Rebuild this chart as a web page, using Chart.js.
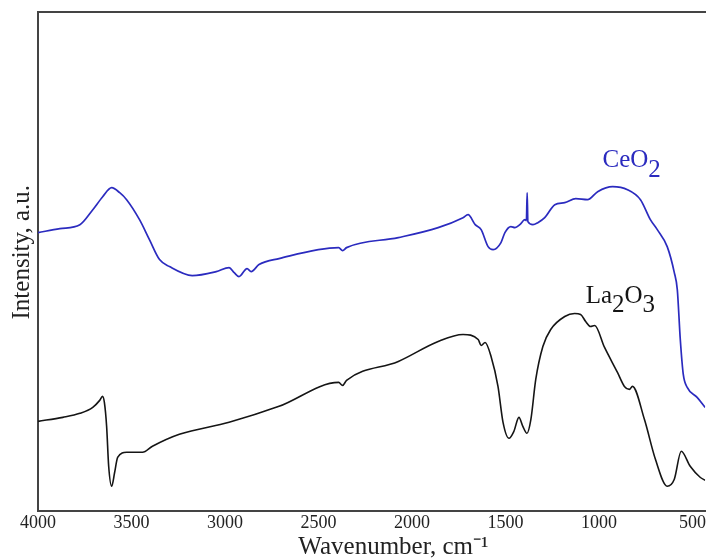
<!DOCTYPE html>
<html>
<head>
<meta charset="utf-8">
<script src="https://cdn.jsdelivr.net/npm/chart.js@4/dist/chart.umd.min.js"></script>
<style>
  html, body { margin: 0; padding: 0; background: #ffffff; }
  #wrap { width: 708px; height: 560px; }
</style>
</head>
<body>
<div id="wrap"><canvas id="c" width="708" height="560"></canvas></div>
<script>
// ---- data (wavenumber, cm-1 / intensity, a.u.) ----
const tickLabels = [4000, 3500, 3000, 2500, 2000, 1500, 1000, 500];

const ceWave = [4000, 3883, 3776, 3707, 3654, 3606, 3563, 3526, 3457, 3404, 3350, 3297, 3175, 3047, 2978, 2951, 2925, 2882, 2860, 2818, 2711, 2392, 2371, 2350, 2073, 1860, 1727, 1700, 1662, 1630, 1593, 1566, 1524, 1503, 1471, 1449, 1423, 1396, 1388, 1384, 1380, 1353, 1327, 1290, 1236, 1183, 1124, 1061, 1007, 927, 847, 778, 725, 688, 635, 597, 581, 565, 549, 528, 475, 432];
const ceInt  = [55.8, 56.6, 57.4, 60.4, 63.0, 64.8, 63.8, 62.4, 58.4, 54.4, 50.4, 49.0, 47.2, 48.0, 48.8, 47.8, 47.0, 48.6, 48.0, 49.4, 50.6, 52.8, 52.2, 52.8, 54.8, 56.8, 58.8, 59.4, 57.4, 56.4, 53.0, 52.4, 53.8, 55.8, 57.0, 56.8, 57.4, 58.4, 58.2, 63.8, 58.0, 57.4, 57.8, 58.8, 61.4, 61.8, 62.6, 62.4, 64.0, 65.0, 64.4, 62.4, 58.4, 56.4, 53.0, 47.8, 44.4, 34.4, 27.4, 24.8, 22.8, 20.8];

const laWave = [4000, 3867, 3776, 3707, 3670, 3655, 3645, 3633, 3622, 3606, 3590, 3574, 3526, 3441, 3388, 3244, 2978, 2711, 2392, 2371, 2350, 2073, 1860, 1727, 1646, 1630, 1609, 1577, 1540, 1513, 1481, 1455, 1428, 1407, 1385, 1364, 1338, 1300, 1258, 1183, 1130, 1098, 1071, 1045, 1023, 970, 901, 864, 837, 821, 757, 698, 635, 597, 560, 512, 459, 432];
const laInt  = [18.0, 18.8, 19.6, 20.8, 22.2, 23.0, 21.8, 17.0, 9.0, 5.0, 7.8, 10.8, 11.8, 11.8, 13.0, 15.4, 17.8, 21.0, 25.8, 25.2, 26.2, 30.0, 34.0, 35.4, 34.4, 33.2, 33.8, 31.0, 25.0, 17.8, 14.6, 16.0, 18.8, 17.0, 15.6, 18.4, 26.4, 33.0, 36.4, 39.0, 39.6, 39.4, 38.0, 37.0, 37.2, 32.8, 27.8, 25.0, 24.4, 25.0, 18.4, 10.4, 5.0, 6.4, 12.0, 9.0, 6.8, 6.2];

// label anchors in data units
const labelWave = [981, 1071];
const labelInt  = [69.0, 41.8];

const CE_COLOR = '#2b2bbf';
const LA_COLOR = '#151515';
const AXIS_COLOR = '#444444';
const SERIF = "'Liberation Serif', 'Times New Roman', serif";

function pts(xs, ys) { return xs.map((x, i) => ({ x: x, y: ys[i] })); }

const labelPlugin = {
  id: 'seriesLabels',
  afterDatasetsDraw(chart) {
    const ctx = chart.ctx;
    const xs = chart.scales.x, ys = chart.scales.y;
    ctx.save();
    ctx.font = '25px ' + SERIF;
    ctx.textBaseline = 'alphabetic';
    ctx.textAlign = 'left';
    // CeO2
    let px = xs.getPixelForValue(labelWave[0]);
    let py = ys.getPixelForValue(labelInt[0]);
    ctx.fillStyle = CE_COLOR;
    ctx.fillText('CeO', px, py);
    px += ctx.measureText('CeO').width;
    ctx.fillText('2', px, py + 10);
    // La2O3
    px = xs.getPixelForValue(labelWave[1]);
    py = ys.getPixelForValue(labelInt[1]);
    ctx.fillStyle = LA_COLOR;
    ctx.fillText('La', px, py);
    px += ctx.measureText('La').width;
    ctx.fillText('2', px, py + 9);
    px += ctx.measureText('2').width;
    ctx.fillText('O', px, py);
    px += ctx.measureText('O').width;
    ctx.fillText('3', px, py + 9);
    ctx.restore();
  }
};

new Chart(document.getElementById('c'), {
  type: 'line',
  data: {
    datasets: [
      { label: 'CeO2', data: pts(ceWave, ceInt), borderColor: CE_COLOR, borderWidth: 1.7,
        pointRadius: 0, cubicInterpolationMode: 'monotone', fill: false },
      { label: 'La2O3', data: pts(laWave, laInt), borderColor: LA_COLOR, borderWidth: 1.6,
        pointRadius: 0, cubicInterpolationMode: 'monotone', fill: false }
    ]
  },
  options: {
    responsive: false,
    animation: false,
    layout: { padding: { top: 12, left: 0, right: 0, bottom: 0 } },
    plugins: { legend: { display: false }, tooltip: { enabled: false } },
    scales: {
      x: {
        type: 'linear', position: 'bottom', reverse: true, min: 432, max: 4000,
        afterBuildTicks(scale) { scale.ticks = tickLabels.map(v => ({ value: v })); },
        ticks: { autoSkip: false, maxRotation: 0, padding: 2, color: '#222',
                 font: { family: SERIF, size: 18, lineHeight: 1.1 },
                 callback: (v) => String(v) },
        grid: { display: false, drawTicks: false },
        border: { display: true, color: AXIS_COLOR, width: 2 },
        title: { display: true, text: '       Wavenumber, cm\u207B\u00B9', color: '#222',
                 font: { family: SERIF, size: 25, lineHeight: 1.0 }, padding: { top: 0, bottom: 0 } }
      },
      xTop: {
        type: 'linear', position: 'top', display: true,
        ticks: { display: false }, grid: { display: false, drawTicks: false },
        border: { display: true, color: AXIS_COLOR, width: 2 }
      },
      y: {
        type: 'linear', position: 'left', min: 0, max: 100,
        ticks: { display: false }, grid: { display: false, drawTicks: false },
        border: { display: true, color: AXIS_COLOR, width: 2 },
        title: { display: true, text: '   Intensity, a.u.', color: '#222',
                 font: { family: SERIF, size: 25, lineHeight: 1.2 }, padding: { top: 7, bottom: 1 } }
      }
    }
  },
  plugins: [labelPlugin]
});
</script>
</body>
</html>
